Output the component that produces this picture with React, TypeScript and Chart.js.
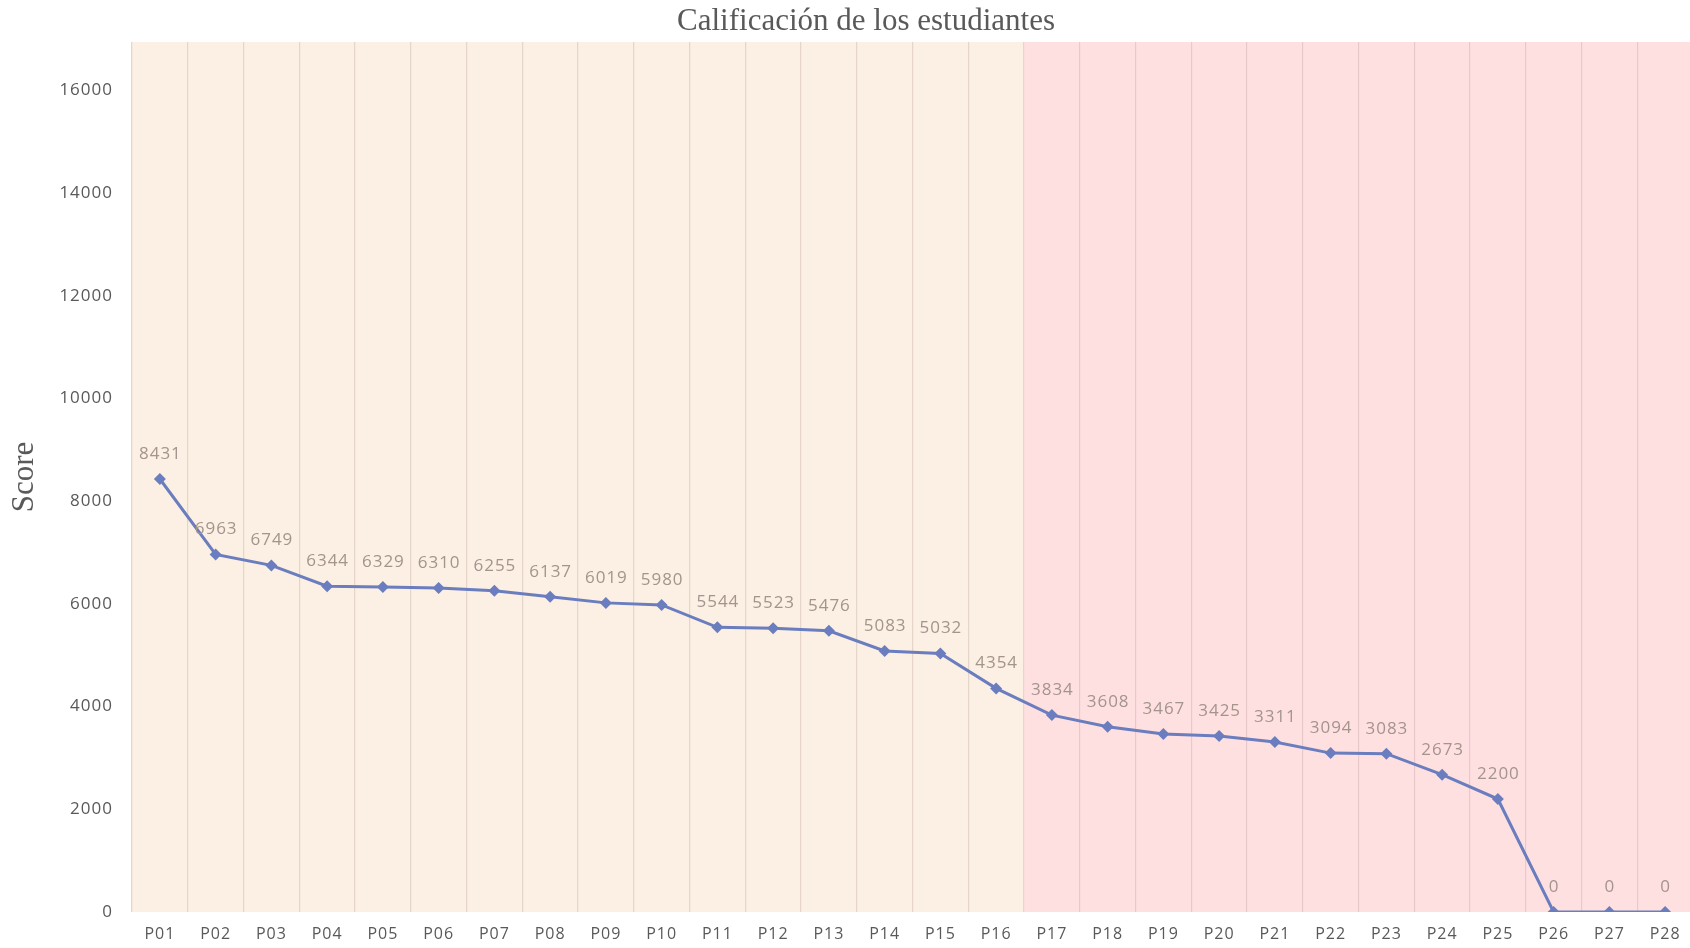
import React, { useEffect, useRef } from "react";
import { Chart, registerables } from "chart.js";

Chart.register(...registerables);

const categories = ["P01","P02","P03","P04","P05","P06","P07","P08","P09","P10","P11","P12","P13","P14","P15","P16","P17","P18","P19","P20","P21","P22","P23","P24","P25","P26","P27","P28"];
const scores = [8431, 6963, 6749, 6344, 6329, 6310, 6255, 6137, 6019, 5980, 5544, 5523, 5476, 5083, 5032, 4354, 3834, 3608, 3467, 3425, 3311, 3094, 3083, 2673, 2200, 0, 0, 0];
const passCount = 16;
const yTickValues = [0, 2000, 4000, 6000, 8000, 10000, 12000, 14000, 16000];
const yMax = 16940;
const titleText = "Calificación de los estudiantes";
const yTitleText = "Score";

const SANS = "'Open Sans', 'Noto Sans', sans-serif";
const SERIF = "'Liberation Serif', 'DejaVu Serif', serif";

const bandsPlugin = {
  id: "bands",
  beforeDraw(chart: any) {
    const { ctx, chartArea, scales } = chart;
    const x = scales.x;
    const half = (x.getPixelForValue(1) - x.getPixelForValue(0)) / 2;
    ctx.save();
    for (let i = 0; i < categories.length; i++) {
      const c = x.getPixelForValue(i);
      ctx.fillStyle = i < passCount ? "#FCEFE3" : "#FFE0E1";
      ctx.fillRect(c - half, chartArea.top, half * 2 + 0.5, chartArea.bottom - chartArea.top);
    }
    ctx.restore();
    (ctx as any).letterSpacing = "1px";
  },
};

const textPlugin = {
  id: "texts",
  afterDraw(chart: any) {
    const { ctx, chartArea } = chart;
    ctx.save();
    (ctx as any).letterSpacing = "0px";
    ctx.fillStyle = "#595959";
    ctx.font = `31px ${SERIF}`;
    ctx.textAlign = "center";
    ctx.textBaseline = "middle";
    ctx.fillText(titleText, 866, 22);
    ctx.translate(25, (chartArea.top + chartArea.bottom) / 2);
    ctx.rotate(-Math.PI / 2);
    ctx.font = `31px ${SERIF}`;
    ctx.fillText(yTitleText, 0, 0);
    ctx.restore();
  },
  afterDatasetsDraw(chart: any) {
    const { ctx } = chart;
    const meta = chart.getDatasetMeta(0);
    ctx.save();
    (ctx as any).letterSpacing = "1px";
    ctx.fillStyle = "#A3948C";
    ctx.font = `17px ${SANS}`;
    ctx.textAlign = "center";
    ctx.textBaseline = "middle";
    meta.data.forEach((pt: any, i: number) => {
      ctx.fillText(String(scores[i]), pt.x + 0.5, pt.y - 25);
    });
    ctx.restore();
  },
};

export default function App() {
  const ref = useRef<HTMLCanvasElement>(null);
  useEffect(() => {
    if (!ref.current) return;
    const chart = new Chart(ref.current, {
      type: "line",
      data: {
        labels: categories,
        datasets: [
          {
            data: scores,
            borderColor: "#6A7DBF",
            backgroundColor: "#6A7DBF",
            borderWidth: 3,
            pointStyle: "rectRot",
            pointRadius: 6,
            pointBorderWidth: 0,
            tension: 0,
          },
        ],
      },
      options: {
        animation: false,
        responsive: false,
        devicePixelRatio: 1,
        layout: { autoPadding: false, padding: { top: 42, left: 0, right: 0, bottom: 0 } },
        plugins: {
          legend: { display: false },
          title: { display: false },
          tooltip: { enabled: false },
        },
        scales: {
          x: {
            offset: true,
            grid: {
              offset: true,
              drawTicks: false,
              lineWidth: 1.2,
              color: (ctx: any) => (ctx.index <= passCount ? "#E6D6C9" : "#E8C8CA"),
            },
            border: { display: false },
            ticks: {
              color: "#595959",
              font: { family: SANS, size: 16 },
              padding: 13,
              autoSkip: false,
              maxRotation: 0,
            },
            afterFit(scale: any) {
              scale.height = 36;
              scale.paddingLeft = 0;
              scale.paddingRight = 0;
            },
          },
          y: {
            min: 0,
            max: yMax,
            grid: { display: false, drawTicks: false },
            border: { display: false },
            afterBuildTicks(scale: any) {
              scale.ticks = yTickValues.map((v) => ({ value: v }));
            },
            ticks: {
              color: "#595959",
              font: { family: SANS, size: 17 },
              padding: 19,
              callback: (v: any) => String(v),
            },
            afterFit(scale: any) {
              scale.width = 132;
              scale.paddingTop = 0;
              scale.paddingBottom = 0;
            },
          },
        },
      },
      plugins: [bandsPlugin, textPlugin],
    });
    return () => chart.destroy();
  }, []);
  return (
    <div style={{ position: "fixed", left: 0, top: 0, width: 1690, height: 948, background: "#fff", overflow: "hidden" }}>
      <canvas ref={ref} width={1693} height={948} />
    </div>
  );
}
